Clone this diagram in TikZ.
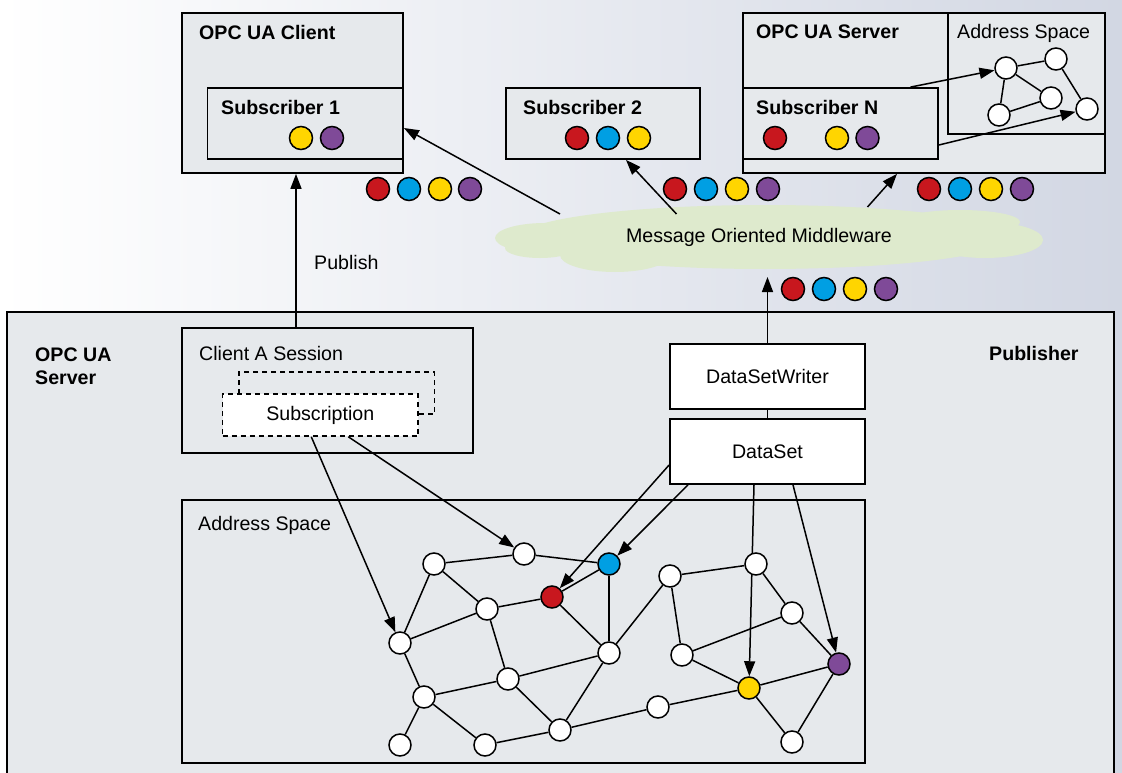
\documentclass[tikz,border=0pt]{standalone}
\usepackage{fontspec}
\setmainfont{Liberation Sans}
\usetikzlibrary{arrows.meta}

\definecolor{opcred}{RGB}{200,23,30}
\definecolor{opcblue}{RGB}{0,159,227}
\definecolor{opcyellow}{RGB}{255,213,0}
\definecolor{opcpurple}{RGB}{127,74,152}
\definecolor{boxgray}{RGB}{230,233,236}
\definecolor{mwgreen}{RGB}{222,234,205}
\definecolor{bgblue}{RGB}{210,215,227}

\begin{document}
\begin{tikzpicture}[x=1pt,y=-1pt,font=\fontsize{19.6}{23}\selectfont]
  \tikzstyle{BoxStyle}=[draw,line width=1.8pt,fill=boxgray,inner sep=0pt]
  \tikzstyle{WhiteBox}=[BoxStyle,fill=white]
  \tikzstyle{DashBox}=[draw,line width=1.5pt,dash pattern=on 5pt off 4pt,inner sep=0pt,
                       minimum width=195.5pt,minimum height=42pt]
  \tikzstyle{Title}=[anchor=west,inner sep=0pt,font=\fontsize{19.6}{23}\selectfont\bfseries]
  \tikzstyle{Label}=[anchor=west,inner sep=0pt]
  \tikzstyle{VertexStyle}=[circle,draw,line width=1.5pt,fill=white,minimum size=22pt,inner sep=0pt]
  \tikzstyle{Msg}=[VertexStyle,minimum size=23pt]
  \tikzstyle{EdgeStyle}=[line width=1.5pt]
  \tikzstyle{Post}=[EdgeStyle,-{Triangle[length=15pt,width=11pt]}]

  \useasboundingbox (0,0) rectangle (1122,773);
  \fill[left color=white,right color=bgblue] (0,0) rectangle (1122,773);

  % subscribers
  \node[BoxStyle,minimum width=221pt,minimum height=160pt] (client) at (292.5,93) {};
  \node[Title] (clientlbl) at (199,32) {OPC UA Client};
  \node[BoxStyle,minimum width=195.5pt,minimum height=71pt] (sub1) at (305.25,123.5) {};
  \node[Title] (sub1lbl) at (221,107) {Subscriber 1};
  \node[Msg,fill=opcyellow] (s1y) at (301,138) {};
  \node[Msg,fill=opcpurple] (s1p) at (332,138) {};

  \node[BoxStyle,minimum width=194pt,minimum height=71pt] (sub2) at (603,123.5) {};
  \node[Title] (sub2lbl) at (523,107) {Subscriber 2};
  \node[Msg,fill=opcred] (s2r) at (577,138) {};
  \node[Msg,fill=opcblue] (s2b) at (608,138) {};
  \node[Msg,fill=opcyellow] (s2y) at (639,138) {};

  \node[BoxStyle,minimum width=362pt,minimum height=160pt] (server) at (924,93) {};
  \node[Title] (serverlbl) at (756,32) {OPC UA Server};
  \node[BoxStyle,minimum width=157pt,minimum height=121pt] (space2) at (1026.5,73.5) {};
  \node[Label] (space2lbl) at (957,33) {Address Space};
  \node[BoxStyle,minimum width=195pt,minimum height=71pt] (subN) at (840.5,123.5) {};
  \node[Title] (subNlbl) at (756,107) {Subscriber N};
  \node[Msg,fill=opcred] (sNr) at (775,138) {};
  \node[Msg,fill=opcyellow] (sNy) at (837,138) {};
  \node[Msg,fill=opcpurple] (sNp) at (867.5,138) {};

  \node[VertexStyle] (a) at (1006,68) {};
  \node[VertexStyle] (b) at (1056,59) {};
  \node[VertexStyle] (c) at (1051,98) {};
  \node[VertexStyle] (d) at (999,115) {};
  \node[VertexStyle] (e) at (1087,109) {};
  \foreach \p/\q in {a/b,a/c,a/d,d/c,b/e}
    \draw[EdgeStyle] (\p) -- (\q);
  \draw[Post] ([xshift=70pt]subN.north) -- (a);
  \draw[Post] ([yshift=-21.5pt]subN.east) -- (e);

  % publisher side
  \node[BoxStyle,minimum width=1107pt,minimum height=478pt] (pubserver) at (560.5,551) {};
  \node[Title,align=left] (pubserverlbl) at (35,366) {OPC UA\\Server};
  \node[Title] (publbl) at (989,353) {Publisher};

  \node[BoxStyle,minimum width=291pt,minimum height=125pt] (session) at (327.5,390.5) {};
  \node[Label] (sessionlbl) at (199,353) {Client A Session};
  \node[DashBox,fill=boxgray] (subsback) at (336.75,393) {};
  \node[DashBox,fill=white] (subs) at (320.25,415) {Subscription};

  \node[WhiteBox,minimum width=195pt,minimum height=65pt] (dsw) at (767.5,376.5) {DataSetWriter};
  \node[WhiteBox,minimum width=195pt,minimum height=65pt] (ds) at (767.5,451.5) {DataSet};
  \draw[EdgeStyle] (dsw) -- (ds);

  \node[BoxStyle,minimum width=683pt,minimum height=263pt] (space1) at (523.5,631.5) {};
  \node[Label] (space1lbl) at (198,525) {Address Space};

  % middleware
  \fill[mwgreen] (765,237) ellipse [x radius=245pt,y radius=32pt];
  \fill[mwgreen] (545,238) ellipse [x radius=50pt,y radius=15pt];
  \fill[mwgreen] (540,248) ellipse [x radius=35pt,y radius=10pt];
  \fill[mwgreen] (615,255) ellipse [x radius=55pt,y radius=17pt];
  \fill[mwgreen] (985,240) ellipse [x radius=58pt,y radius=18pt];
  \fill[mwgreen] (960,222) ellipse [x radius=60pt,y radius=12pt];
  \node (mom) at (759,237) {Message Oriented Middleware};
  \coordinate (m1) at (560,214);
  \coordinate (m2) at (676.5,214);
  \coordinate (m3) at (867.5,207);
  \coordinate (m4) at (767.5,277);

  \draw[Post] (m1) -- ([yshift=-4.5pt]sub1.east);
  \draw[Post] (m2) -- ([xshift=23pt]sub2.south);
  \draw[Post] (m3) -- ([xshift=-27pt]server.south);
  \draw[Post] (dsw.north) -- (m4);
  \draw[Post] ([xshift=-31.5pt]session.north) -- ([xshift=-31.5pt]session.north |- client.south);
  \node[Label] (publishlbl) at (314,262) {Publish};

  \foreach \p/\col/\xx in {r1/opcred/378,b1/opcblue/409,y1/opcyellow/440,p1/opcpurple/470,
                           r2/opcred/675,b2/opcblue/706,y2/opcyellow/737,p2/opcpurple/768,
                           r3/opcred/929,b3/opcblue/960,y3/opcyellow/991,p3/opcpurple/1022}
    \node[Msg,fill=\col] (\p) at (\xx,189) {};
  \foreach \p/\col/\xx in {r4/opcred/793,b4/opcblue/824,y4/opcyellow/855,p4/opcpurple/886}
    \node[Msg,fill=\col] (\p) at (\xx,289) {};

  % address space graph
  \node[VertexStyle] (v1) at (434,564) {};
  \node[VertexStyle] (v2) at (524,554) {};
  \node[VertexStyle,fill=opcblue] (vb) at (609,564) {};
  \node[VertexStyle,fill=opcred] (vr) at (552,597) {};
  \node[VertexStyle] (v3) at (487,609) {};
  \node[VertexStyle] (v4) at (400,643) {};
  \node[VertexStyle] (v5) at (609,653) {};
  \node[VertexStyle] (v6) at (508,679) {};
  \node[VertexStyle] (v7) at (424,697) {};
  \node[VertexStyle] (v8) at (400,745) {};
  \node[VertexStyle] (v9) at (485,745) {};
  \node[VertexStyle] (v10) at (560,730) {};
  \node[VertexStyle] (v11) at (658,707) {};
  \node[VertexStyle] (v12) at (670,576) {};
  \node[VertexStyle] (v13) at (682,655) {};
  \node[VertexStyle] (v15) at (792,613) {};
  \node[VertexStyle,fill=opcpurple] (vp) at (839,664) {};
  \node[VertexStyle,fill=opcyellow] (vy) at (749,688) {};
  \node[VertexStyle] (v16) at (792,742) {};
  \draw[Post] ([xshift=-13.5pt]ds.south) -- (vy);
  \node[VertexStyle] (v14) at (756,564) {};

  \foreach \p/\q in {v1/v2,v2/vb,v1/v3,v1/v4,v3/vr,vr/vb,v4/v3,v3/v6,v4/v7,v7/v6,v6/v5,
                     vr/v5,vb/v5,v5/v12,v7/v8,v7/v9,v9/v10,v6/v10,v10/v5,v10/v11,v11/vy,
                     v12/v14,v12/v13,v14/v15,v15/v13,v15/vp,v13/vy,vy/vp,vy/v16,v16/vp}
    \draw[EdgeStyle] (\p) -- (\q);

  \draw[Post] ([xshift=-9pt]subs.south) -- (v4);
  \draw[Post] ([xshift=28pt]subs.south) -- (v2);
  \draw[Post] ([yshift=-13.5pt]ds.west) -- (vr);
  \draw[Post] ([xshift=-79.5pt]ds.south) -- (vb);
  \draw[Post] ([xshift=25.5pt]ds.south) -- (vp);
\end{tikzpicture}
\end{document}
